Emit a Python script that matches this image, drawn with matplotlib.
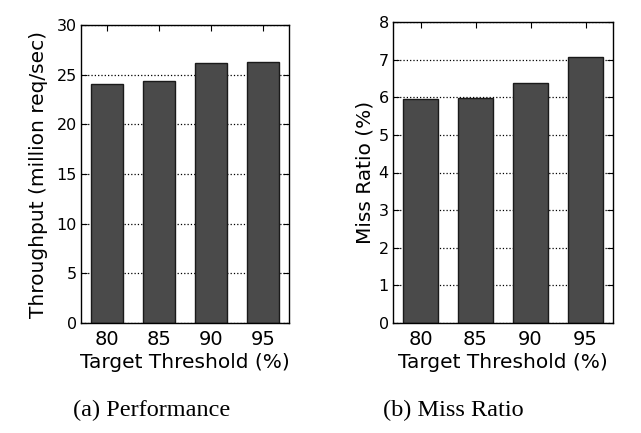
import matplotlib
matplotlib.use('Agg')
import matplotlib.pyplot as plt
import numpy as np

thresholds = ['80', '85', '90', '95']
throughput = [24.05, 24.33, 26.21, 26.28]
miss_ratio = [5.96, 5.99, 6.38, 7.08]

bar_color = '#4a4a4a'

fig = plt.figure(figsize=(6.41, 4.33), dpi=100)
ax1 = fig.add_axes([81 / 641, 1 - 323 / 433, 208 / 641, 298 / 433])
ax2 = fig.add_axes([393 / 641, 1 - 323 / 433, 220 / 641, 301 / 433])

x = np.arange(len(thresholds))


def style(ax, ymax, step, ylabel, lpad):
    ax.set_axisbelow(True)
    ax.set_xlim(-0.5, len(thresholds) - 0.5)
    ax.set_ylim(0, ymax)
    ax.set_yticks(np.arange(0, ymax + step, step))
    ax.set_xticks(x)
    ax.set_xticklabels(thresholds, fontsize=14)
    ax.tick_params(axis='y', labelsize=11.5, pad=3)
    ax.tick_params(direction='in', top=True, right=True, length=4, width=0.8)
    ax.tick_params(axis='x', pad=5)
    ax.yaxis.grid(True, linestyle=':', color='black', linewidth=0.9)
    ax.set_ylabel(ylabel, fontsize=14.5, labelpad=lpad)
    ax.set_xlabel('Target Threshold (%)', fontsize=14.5, labelpad=3)
    for s in ax.spines.values():
        s.set_linewidth(1.0)


ax1.bar(x, throughput, width=0.6, color=bar_color, edgecolor='#1a1a1a', linewidth=1.0)
style(ax1, 30, 5, 'Throughput (million req/sec)', 6)

ax2.bar(x, miss_ratio, width=0.62, color=bar_color, edgecolor='#1a1a1a', linewidth=1.0)
style(ax2, 8, 1, 'Miss Ratio (%)', 3)

fig.text(152 / 641, 1 - 410 / 433, '(a) Performance', family='Liberation Serif',
         fontsize=17.5, ha='center', va='center')
fig.text(453 / 641, 1 - 410 / 433, '(b) Miss Ratio', family='Liberation Serif',
         fontsize=17.5, ha='center', va='center')

fig.savefig('out.png', dpi=100)
